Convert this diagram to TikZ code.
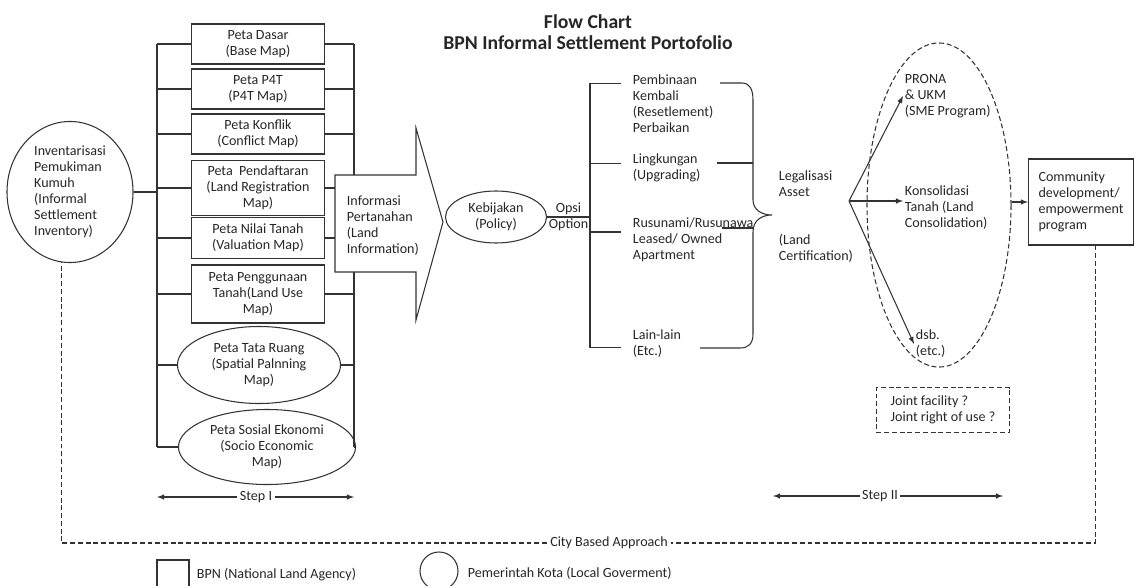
\documentclass[tikz,border=0pt]{standalone}
\usepackage{fontspec}
\setmainfont{Carlito}
\usetikzlibrary{shapes.geometric}

\tikzstyle{mapbox}=[rectangle,draw,minimum width=3.325cm,align=center,inner sep=1pt]
\tikzstyle{kotaellipse}=[ellipse,draw,align=center,inner sep=0pt]
\tikzstyle{txt}=[align=left,inner sep=1pt,anchor=west]
\tikzstyle{edge} = [draw,-]
\tikzstyle{arrowedge} = [draw,-latex]
\tikzstyle{dashedge} = [draw,dash pattern=on 3.5pt off 2pt]

\begin{document}
\begin{tikzpicture}[x=0.025cm,y=-0.025cm,color=black!80,text=black!85,line width=0.75pt,font=\fontsize{10}{11.4}\selectfont]
	\useasboundingbox (0,0) rectangle (1136,585);
	\node[font=\fontsize{14}{15}\selectfont\bfseries,align=center] (title) at (588,32) {Flow Chart\\BPN Informal Settlement Portofolio};
	% Step I: maps
	\node[kotaellipse,align=left,minimum width=3.15cm,minimum height=3.525cm] (inv) at (70,192) {Inventarisasi\\Pemukiman\\Kumuh\\(Informal\\Settlement\\Inventory)};
	\node[mapbox,minimum height=1cm] (dasar) at (258,44) {Peta Dasar\\(Base Map)};
	\node[mapbox,minimum height=1cm] (p4t) at (258,89) {Peta P4T\\(P4T Map)};
	\node[mapbox,minimum height=1cm] (konflik) at (258,134) {Peta Konflik\\(Conflict Map)};
	\node[mapbox,minimum height=1.375cm] (daftar) at (258,188) {Peta\ \ Pendaftaran\\(Land Registration\\Map)};
	\node[mapbox,minimum height=1.025cm] (nilai) at (258,238) {Peta Nilai Tanah\\(Valuation Map)};
	\node[mapbox,minimum height=1.45cm] (guna) at (258,294) {Peta Penggunaan\\Tanah(Land Use\\Map)};
	\node[kotaellipse,minimum width=4.075cm,minimum height=1.925cm] (ruang) at (259,365) {Peta Tata Ruang\\(Spatial Palnning\\Map)};
	\node[kotaellipse,minimum width=4.425cm,minimum height=1.875cm] (sosek) at (267,447) {Peta Sosial Ekonomi\\(Socio Economic\\Map)};
	\coordinate (lbus) at (157,0);
	\coordinate (rbus) at (354,0);
	\draw (lbus |- dasar) -- (lbus |- sosek);
	\draw (rbus |- dasar) -- (rbus |- sosek);
	\foreach \peta in {dasar,p4t,konflik,daftar,nilai,guna,ruang,sosek}
	{
		\path[edge] (\peta.west) -- (\peta.west -| lbus);
		\path[edge] (\peta.east) -- (\peta.east -| rbus);
	}
	\path[edge] (inv.east) -- (inv.east -| lbus);
	% Land information arrow
	\draw[fill=white] (335,175) -- (416,175) -- (416,128) -- (443,222) -- (416,320) -- (416,272) -- (335,272) -- cycle;
	\node[txt] (info) at (345,226) {Informasi\\Pertanahan\\(Land\\Information)};
	\node[kotaellipse,minimum width=2.525cm,minimum height=1.3cm] (kebijakan) at (496,217) {Kebijakan\\(Policy)};
	% Options
	\coordinate (obus) at (590,0);
	\node[txt] (bina) at (631,104) {Pembinaan\\Kembali\\(Resetlement)\\Perbaikan};
	\node[txt] (lingkungan) at (631,168) {Lingkungan\\(Upgrading)};
	\node[txt] (rusun) at (631,240) {Rusunami/Rusunawa\\Leased/ Owned\\Apartment};
	\node[txt] (lain) at (631,344) {Lain-lain\\(Etc.)};
	\path[edge] (kebijakan.east) -- node[above,inner sep=1pt] {Opsi} node[below,inner sep=1pt] {Option} (kebijakan.east -| obus);
	\draw ([yshift=14.9pt]bina.west -| obus) -- ([yshift=-2.8pt]lain.west -| obus);
	\foreach \opsi/\dy in {bina/14.9,lingkungan/3.5,rusun/5.7,lain/-2.8}
		\path[edge] ([xshift=-7pt,yshift=\dy pt]\opsi.west) -- ([yshift=\dy pt]\opsi.west -| obus);
	% Brace
	\draw (720,83) -- (742,83) .. controls (750,83) and (753,90) .. (753,100) -- (753,200) .. controls (753,210) and (762,215) .. (772,215) .. controls (762,215) and (753,220) .. (753,232) -- (753,334) .. controls (753,344) and (748,348) .. (740,348) -- (700,348);
	\draw (717,163) -- (753,163);
	\draw (722,228) -- (753,228);
	\node[txt] (legal) at (777,184) {Legalisasi\\Asset};
	\node[txt] (sertifikat) at (777,248) {(Land\\Certification)};
	% Step II
	\coordinate (fan) at (849,201);
	\node[ellipse,dashedge,minimum width=3.6cm,minimum height=8.1cm] (grp) at (939,205) {};
	\node[txt] (prona) at (903,96) {PRONA\\\& UKM\\(SME Program)};
	\node[txt] (konsol) at (903,208) {Konsolidasi\\Tanah (Land\\Consolidation)};
	\node[txt] (dsb) at (914,344) {dsb.\\(etc.)};
	\foreach \dest in {prona,dsb}
		\path[arrowedge] (fan) -- (\dest.west);
	\path[arrowedge] (fan) -- (fan -| konsol.west);
	\node[draw,rectangle,align=left,minimum width=2.625cm,minimum height=2.15cm,inner sep=1pt] (comm) at (1081,202) {Community\\development/\\empowerment\\program};
	\path[arrowedge] (comm.west -| grp.east) -- (comm.west);
	\node[dashedge,align=left,minimum width=3.325cm,minimum height=1.125cm,inner sep=1pt] (joint) at (943,410) {Joint facility ?\\Joint right of use ?};
	% Step arrows
	\node[inner sep=2pt] (stepI) at (256,497) {Step I};
	\coordinate (stepIl) at (157,497);
	\coordinate (stepIr) at (354,497);
	\path[arrowedge] (stepI) -- (stepIl);
	\path[arrowedge] (stepI) -- (stepIr);
	\node[inner sep=1pt] (stepII) at (880,496) {Step II};
	\coordinate (stepIIl) at (773,496);
	\coordinate (stepIIr) at (1003,496);
	\path[arrowedge] (stepII) -- (stepIIl);
	\path[arrowedge] (stepII) -- (stepIIr);
	% City based approach
	\node[inner sep=2pt] (city) at (609,543) {City Based Approach};
	\path[dashedge] ([xshift=10pt]comm.south) |- (city.east);
	\path[dashedge] (city.west) -| (inv.-97);
	% Legend
	\node[draw,rectangle,minimum size=0.8cm,inner sep=0pt] (lgbpn) at (173,576) {};
	\node[txt] (lgbpntxt) at (195,575) {BPN (National Land Agency)};
	\node[draw,circle,minimum size=0.95cm,inner sep=0pt] (lgkota) at (439,571) {};
	\node[txt] (lgkotatxt) at (466,573) {Pemerintah Kota (Local Goverment)};
\end{tikzpicture}
\end{document}
